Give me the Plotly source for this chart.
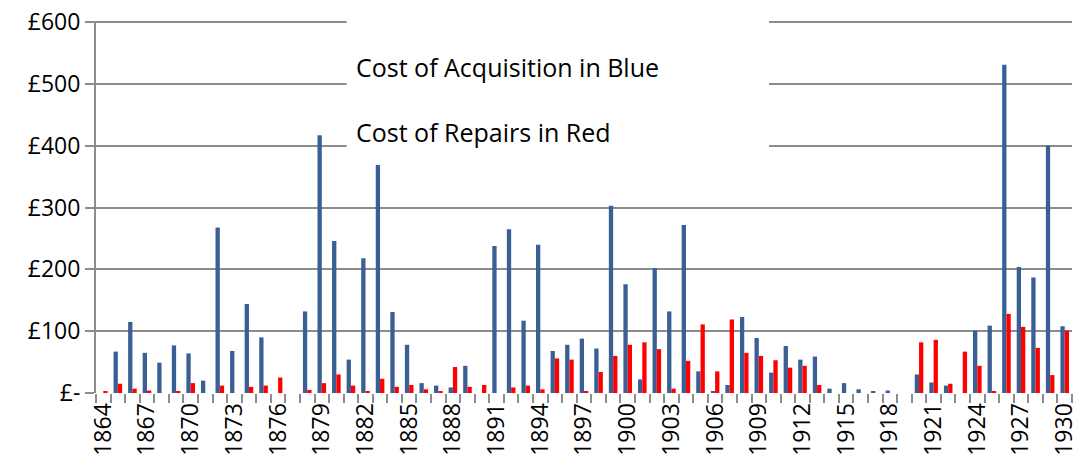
import plotly.graph_objects as go

years = list(range(1864, 1931))

# cost of acquisition (blue), £
acquisition = [
    0, 67, 115, 65, 49, 77, 64, 20, 268, 68,
    144, 90, 0, 0, 132, 417, 246, 54, 218, 369,
    131, 78, 16, 12, 9, 44, 0, 238, 265, 117,
    240, 68, 78, 88, 72, 303, 176, 22, 202, 132,
    272, 35, 2, 13, 123, 89, 33, 76, 54, 59,
    7, 16, 6, 3, 4, 0, 30, 17, 12, 0,
    101, 109, 531, 204, 187, 400, 108,
]

# cost of repairs (red), £
repairs = [
    2, 15, 7, 4, 0, 2, 16, 0, 12, 0,
    10, 12, 25, 0, 5, 16, 30, 12, 3, 23,
    10, 13, 6, 3, 42, 10, 13, 0, 9, 12,
    6, 56, 54, 2, 34, 60, 78, 82, 71, 7,
    52, 111, 35, 119, 65, 60, 53, 41, 44, 13,
    0, 0, 0, 0, 0, 0, 82, 86, 15, 67,
    44, 2, 128, 107, 73, 29, 101,
]

y_ticks = [0, 100, 200, 300, 400, 500, 600]
y_labels = ['£-', '£100', '£200', '£300', '£400', '£500', '£600']
x_ticks = years[::3]

grid = '#8c8c8c'
font = dict(family='Open Sans', size=23, color='black')
note_font = dict(family='Open Sans', size=25, color='black')

fig = go.Figure()
fig.add_trace(go.Bar(x=years, y=acquisition, name='Acquisition',
                     marker=dict(color='#3a5f94', line=dict(width=0))))
fig.add_trace(go.Bar(x=years, y=repairs, name='Repairs',
                     marker=dict(color='#ff0000', line=dict(width=0))))

# white text box that hides the upper gridlines behind the captions
fig.add_shape(type='rect', xref='x', yref='y', layer='between',
              x0=1880.7, x1=1909.7, y0=330, y1=620,
              fillcolor='white', line=dict(width=0))

fig.add_annotation(text='Cost of Acquisition in Blue', xref='x', yref='y',
                   x=1881.2, y=527, xanchor='left', yanchor='middle',
                   showarrow=False, font=note_font)
fig.add_annotation(text='Cost of Repairs in Red', xref='x', yref='y',
                   x=1881.2, y=423, xanchor='left', yanchor='middle',
                   showarrow=False, font=note_font)

# the page body adds an 8px margin, so the figure is sized to fit inside it
fig.update_layout(
    width=1074,
    height=458,
    margin=dict(l=88, r=10, t=13, b=73),
    paper_bgcolor='white',
    plot_bgcolor='white',
    showlegend=False,
    barmode='group',
    bargap=0.41,
    bargroupgap=0,
    font=font,
    xaxis=dict(
        range=[1863.5, 1930.5],
        tickmode='array',
        tickvals=x_ticks,
        ticktext=[str(y) for y in x_ticks],
        tickangle=-90,
        ticks='outside',
        ticklen=0,
        showgrid=False,
        showline=False,
        zeroline=False,
        automargin=False,
        ticklabeloverflow='allow',
        minor=dict(tick0=1863.5, dtick=1, ticks='outside', ticklen=9,
                   tickcolor=grid, tickwidth=2, showgrid=False),
        tickfont=font,
    ),
    yaxis=dict(
        range=[0, 602],
        tickmode='array',
        tickvals=y_ticks,
        ticktext=y_labels,
        ticks='outside',
        ticklen=9,
        tickcolor=grid,
        tickwidth=2,
        showgrid=True,
        gridcolor=grid,
        gridwidth=2,
        showline=True,
        linecolor=grid,
        linewidth=2,
        zeroline=False,
        automargin=False,
        ticklabeloverflow='allow',
        tickfont=font,
    ),
)

fig.write_html('out.html')
